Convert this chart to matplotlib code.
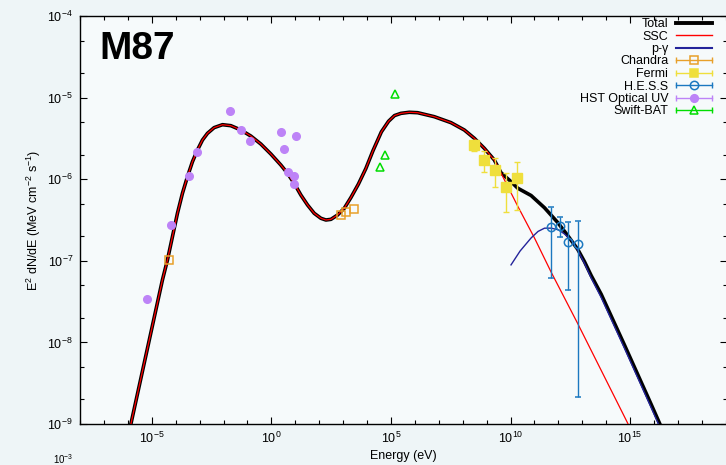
import numpy as np
import matplotlib
matplotlib.use("Agg")
import matplotlib.pyplot as plt
from matplotlib.lines import Line2D
from matplotlib.legend_handler import HandlerLine2D, HandlerTuple
from matplotlib.ticker import FixedLocator, LogFormatterSciNotation, NullFormatter

plt.rcParams['font.family'] = ['Liberation Sans', 'DejaVu Sans']
plt.rcParams['mathtext.fontset'] = 'custom'
plt.rcParams['mathtext.rm'] = 'Liberation Sans'
plt.rcParams['mathtext.it'] = 'Liberation Sans:italic'
plt.rcParams['mathtext.bf'] = 'Liberation Sans:bold'

# ---------------- data (log10 energy [eV], log10 E^2 dN/dE [MeV cm^-2 s^-1]) -------------
ssc_logE = [-5.88, -4.554, -4.344, -4.135, -3.926, -3.717, -3.508, -3.298, -3.089, -2.880,
            -2.671, -2.392, -2.043, -1.695, -1.276, -0.858, -0.439, -0.021, 0.397, 0.676,
            0.955, 1.234, 1.513, 1.792, 2.071, 2.280, 2.490, 2.768, 3.047, 3.326, 3.640,
            3.95, 4.25, 4.60, 4.90, 5.15, 5.418, 5.767, 6.116, 6.813, 7.510, 8.068, 8.487,
            8.905, 9.323, 9.80, 10.30, 11.00, 11.70, 12.81, 14.83, 15.20]
ssc_logF = [-9.01, -7.235, -6.990, -6.704, -6.418, -6.173, -5.969, -5.785, -5.642, -5.520,
            -5.438, -5.368, -5.332, -5.344, -5.397, -5.471, -5.569, -5.691, -5.826, -5.928,
            -6.051, -6.194, -6.316, -6.418, -6.479, -6.500, -6.492, -6.439, -6.357, -6.225, -6.06,
            -5.87, -5.65, -5.42, -5.29, -5.22, -5.193, -5.180, -5.185, -5.234, -5.307, -5.397, -5.499,
            -5.622, -5.765, -6.04, -6.33, -6.72, -7.14, -7.77, -8.95, -9.17]

total_logE = ssc_logE[:45] + [9.60, 10.02, 10.30, 10.86, 11.42, 11.97, 12.39, 12.81, 13.09,
                              13.37, 13.79, 14.76, 15.88, 16.50]
total_logF = ssc_logF[:45] + [-5.92, -6.03, -6.11, -6.20, -6.35, -6.53, -6.69, -6.86, -7.01,
                              -7.18, -7.41, -8.03, -8.76, -9.17]

pg_logE = [10.02, 10.40, 10.86, 11.15, 11.42, 11.70, 12.00, 12.25, 12.55, 12.81, 13.09,
           13.37, 13.79, 14.76, 15.88, 16.50]
pg_logF = [-7.05, -6.88, -6.72, -6.64, -6.60, -6.60, -6.62, -6.67, -6.75, -6.87, -7.03,
           -7.21, -7.45, -8.07, -8.80, -9.21]

chandra_logE = [-4.27, 2.91, 3.12, 3.44]
chandra_logF = [-6.99, -6.44, -6.40, -6.37]

fermi_logE = [8.49, 8.91, 9.33, 9.79, 10.25]
fermi_logF = [-5.58, -5.77, -5.89, -6.10, -5.99]
fermi_logLo = [-5.66, -5.91, -6.09, -6.40, -6.38]
fermi_logHi = [-5.52, -5.66, -5.74, -5.93, -5.79]

hess_logE = [11.69, 12.05, 12.41, 12.81]
hess_logF = [-6.58, -6.57, -6.77, -6.79]
hess_logLo = [-7.21, -6.71, -7.36, -8.67]
hess_logHi = [-6.34, -6.46, -6.52, -6.51]

hst_logE = [-5.21, -4.21, -3.44, -3.09, -1.74, -1.28, -0.91, 0.40, 1.01, 0.54, 0.71, 0.93, 0.93]
hst_logF = [-7.47, -6.56, -5.96, -5.67, -5.16, -5.40, -5.53, -5.42, -5.47, -5.63, -5.91, -5.96, -6.06]

swift_logE = [5.17, 4.76, 4.55]
swift_logF = [-4.95, -5.70, -5.85]

labels = ["Total", "SSC", "p-\u03b3", "Chandra", "Fermi", "H.E.S.S", "HST Optical UV", "Swift-BAT"]

c_total = "black"
c_ssc = "#ff0000"
c_pg = "#23239a"
c_chandra = "#e8a02a"
c_fermi = "#efdf3c"
c_hess = "#1b78c0"
c_hst = "#bd83f7"
c_swift = "#00dd00"

p = lambda a: np.power(10.0, np.asarray(a, dtype=float))

W, H = 726, 465
fig = plt.figure(figsize=(W / 100, H / 100), dpi=100, facecolor="#eef5f7")
ax = fig.add_axes([80 / W, 1 - 424 / H, (727 - 80) / W, (424 - 16) / H])
ax.set_facecolor("#f6fafb")

ax.plot(p(total_logE), p(total_logF), color=c_total, lw=2.6, solid_joinstyle='round', zorder=3)
ax.plot(p(ssc_logE), p(ssc_logF), color=c_ssc, lw=0.9, zorder=4)
ax.plot(p(pg_logE), p(pg_logF), color=c_pg, lw=1.0, zorder=4)

ax.plot(p(chandra_logE), p(chandra_logF), ls='none', marker='s', ms=6, mfc='none',
        mec=c_chandra, mew=1.1, zorder=5)
fy = p(fermi_logF)
ax.errorbar(p(fermi_logE), fy, yerr=[fy - p(fermi_logLo), p(fermi_logHi) - fy], fmt='s',
            ms=6.5, color=c_fermi, ecolor=c_fermi, elinewidth=1.0, capsize=2, capthick=1.0, zorder=5)
hy = p(hess_logF)
ax.errorbar(p(hess_logE), hy, yerr=[hy - p(hess_logLo), p(hess_logHi) - hy], fmt='o',
            ms=6, mfc='none', mec=c_hess, mew=1.1, color=c_hess, ecolor=c_hess,
            elinewidth=1.0, capsize=2, capthick=1.0, zorder=5)
ax.plot(p(hst_logE), p(hst_logF), ls='none', marker='o', ms=5.5, color=c_hst, zorder=5)
ax.plot(p(swift_logE), p(swift_logF), ls='none', marker='^', ms=5.5, mfc='none',
        mec=c_swift, mew=1.1, zorder=5)

ax.set_xscale('log')
ax.set_yscale('log')
ax.set_xlim(1e-8, 10 ** 19.05)
ax.set_ylim(1e-9, 1e-4)

ax.xaxis.set_major_locator(FixedLocator([1e-5, 1e0, 1e5, 1e10, 1e15]))
ax.xaxis.set_minor_locator(FixedLocator([10.0 ** k for k in range(-8, 20) if k % 5 != 0]))
ax.yaxis.set_major_locator(FixedLocator([10.0 ** k for k in range(-9, -3)]))
ax.yaxis.set_minor_locator(FixedLocator([m * 10.0 ** k for k in range(-9, -4) for m in (2, 5)]))
ax.xaxis.set_major_formatter(LogFormatterSciNotation())
ax.yaxis.set_major_formatter(LogFormatterSciNotation())
ax.xaxis.set_minor_formatter(NullFormatter())
ax.yaxis.set_minor_formatter(NullFormatter())
ax.tick_params(which='both', direction='in', top=True, right=True, labelsize=9, width=0.8)
ax.tick_params(which='major', length=5, pad=5)
ax.tick_params(which='minor', length=3)
for s in ax.spines.values():
    s.set_linewidth(1.0)

ax.set_xlabel("Energy (eV)", fontsize=9, labelpad=3)
ax.set_ylabel("E$^{2}$ dN/dE (MeV cm$^{-2}$ s$^{-1}$)", fontsize=9, labelpad=3)

fig.text(99 / W, 1 - 59 / H, "M87", fontsize=28, fontweight='bold', ha='left', va='baseline')
fig.text(53 / W, 1 - 464 / H, "10$^{-3}$", fontsize=7, ha='left', va='baseline')

# legend handles
h_total = Line2D([], [], color=c_total, lw=2.8)
h_ssc = Line2D([], [], color=c_ssc, lw=1.0)
h_pg = Line2D([], [], color=c_pg, lw=1.5)
hmap = {}
def data_handle(color, marker, filled, ms):
    cap = Line2D([], [], color=color, lw=1.0, marker='|', ms=4, mew=1.0)
    mk = Line2D([], [], ls='none', marker=marker, ms=ms, color=color,
                mfc=color if filled else 'none', mec=color, mew=1.1)
    hmap[cap] = HandlerLine2D(numpoints=2, marker_pad=0)
    hmap[mk] = HandlerLine2D(numpoints=1)
    return (cap, mk)

handles = [h_total, h_ssc, h_pg,
           data_handle(c_chandra, 's', False, 6),
           data_handle(c_fermi, 's', True, 6),
           data_handle(c_hess, 'o', False, 6),
           data_handle(c_hst, 'o', True, 5.5),
           data_handle(c_swift, '^', False, 5.5)]
hmap[tuple] = HandlerTuple(ndivide=1)
leg = ax.legend(handles, labels, handler_map=hmap, loc='upper right',
                bbox_to_anchor=(712 / W, 1 - 18 / H), bbox_transform=fig.transFigure,
                frameon=False, markerfirst=False, fontsize=9, handlelength=2.9,
                handletextpad=0.6, labelspacing=0.04, borderpad=0, borderaxespad=0)
for t in leg.get_texts():
    t.set_ha('right')

fig.savefig("out.png", dpi=100, facecolor=fig.get_facecolor())
